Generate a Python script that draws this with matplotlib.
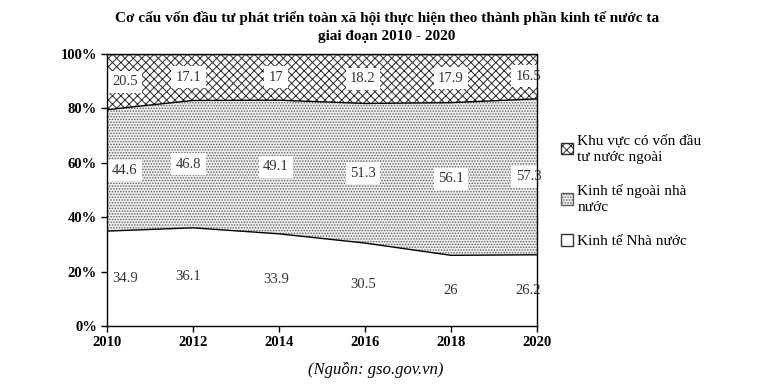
import matplotlib
matplotlib.use("Agg")
import matplotlib.pyplot as plt
import numpy as np
from matplotlib.patches import Patch

years = [2010, 2012, 2014, 2016, 2018, 2020]
nha_nuoc = [34.9, 36.1, 33.9, 30.5, 26, 26.2]
ngoai_nha_nuoc = [44.6, 46.8, 49.1, 51.3, 56.1, 57.3]
fdi = [20.5, 17.1, 17, 18.2, 17.9, 16.5]
series_names = ["Kinh tế Nhà nước", "Kinh tế ngoài nhà\nnước", "Khu vực có vốn đầu\ntư nước ngoài"]
yticks = [0, 20, 40, 60, 80, 100]

plt.rcParams['font.family'] = ['Liberation Serif', 'DejaVu Serif']
plt.rcParams['hatch.linewidth'] = 0.7

fig = plt.figure(figsize=(7.74, 3.85), dpi=100)
ax = fig.add_axes([0.138, 0.153, 0.556, 0.707])

x = np.array(years)
b1 = np.array(nha_nuoc)
b2 = b1 + np.array(ngoai_nha_nuoc)
b3 = b2 + np.array(fdi)

ax.fill_between(x, 0, b1, facecolor='white', edgecolor='black', linewidth=0)
ax.fill_between(x, b1, b2, facecolor='#eeeeee', edgecolor='#606060', hatch='......', linewidth=0)
ax.fill_between(x, b2, b3, facecolor='white', edgecolor='#2a2a2a', hatch='xxxx', linewidth=0)
ax.plot(x, b1, color='black', lw=1.0)
ax.plot(x, b2, color='black', lw=1.0)
ax.plot(x, b3, color='black', lw=1.0)

# data labels at band centers
xoff = {0: 0.42, 1: -0.1, 2: -0.07, 3: -0.05, 4: 0.0, 5: -0.2}
box = dict(boxstyle='square,pad=0.3', facecolor='white', edgecolor='none')
for i, yr in enumerate(years):
    xl = yr + xoff.get(i, 0)
    for lo, val in [(0, nha_nuoc[i]), (b1[i], ngoai_nha_nuoc[i]), (b2[i], fdi[i])]:
        ax.text(xl, lo + val / 2, f"{val:g}", ha='center', va='center',
                fontsize=10.5, color='#333333', bbox=box, zorder=5)

ax.set_xlim(2010, 2020)
ax.set_ylim(0, 100)
ax.set_xticks(years)
ax.set_xticklabels([str(y) for y in years], fontsize=10.5, fontweight='bold')
ax.set_yticks(yticks)
ax.set_yticklabels([f"{v}%" for v in yticks], fontsize=10.5, fontweight='bold')
ax.tick_params(direction='out', length=4, width=1, colors='black', pad=3)
for s in ax.spines.values():
    s.set_color('black')
    s.set_linewidth(1.0)
    s.set_zorder(6)

handles = [
    Patch(facecolor='white', edgecolor='#2a2a2a', hatch='xxxx', label=series_names[2]),
    Patch(facecolor='#eeeeee', edgecolor='#606060', hatch='......', label=series_names[1]),
    Patch(facecolor='white', edgecolor='#333333', label=series_names[0]),
]
leg = fig.legend(handles=handles, loc='upper left', bbox_to_anchor=(0.717, 0.668),
                 frameon=False, fontsize=11, handlelength=0.8, handleheight=0.8,
                 handletextpad=0.25, labelspacing=1.3, borderaxespad=0)
for t in leg.get_texts():
    t.set_linespacing(1.35)

fig.text(0.5, 0.953, "Cơ cấu vốn đầu tư phát triển toàn xã hội thực hiện theo thành phần kinh tế nước ta",
         ha='center', va='center', fontsize=11, fontweight='bold')
fig.text(0.5, 0.904, "giai đoạn 2010 - 2020", ha='center', va='center', fontsize=11, fontweight='bold')
fig.text(0.485, 0.04, "(Nguồn: gso.gov.vn)", ha='center', va='center', fontsize=12, style='italic')

fig.savefig("out.png", dpi=100)
